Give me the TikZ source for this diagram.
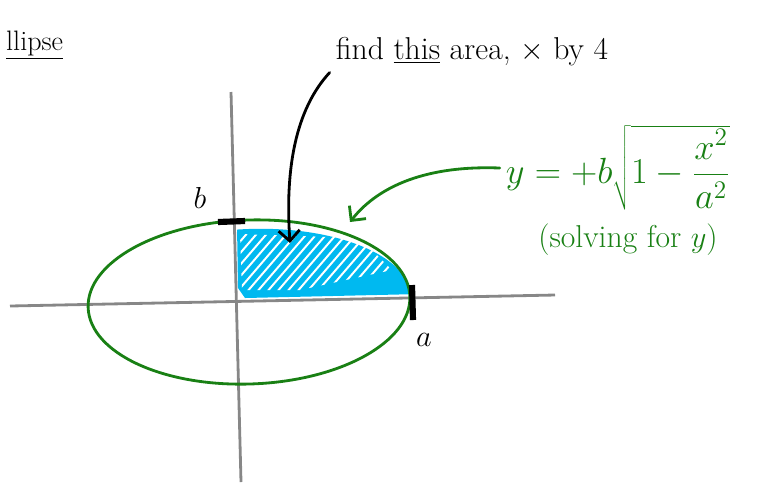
\documentclass[tikz,border=0pt]{standalone}
\usepackage{xcolor}
\usepackage{tikz}
\usetikzlibrary{arrows.meta}
\definecolor{pengreen}{RGB}{25,128,20}
\definecolor{fillblue}{RGB}{0,185,240}
\definecolor{axisgrey}{RGB}{135,135,135}

\begin{document}
\begin{tikzpicture}[x=0.02cm, y=-0.02cm,
      axis/.style={axisgrey, line width=1.6pt},
      pen/.style={line width=1.6pt, line cap=round},
      tick/.style={line width=3.5pt},
      pointer/.style={pen, -{Straight Barb[length=6pt, width=12pt]}}
      ]
  \useasboundingbox (0,0) rectangle (763,485);
  % axes
  \draw[axis] (10,306) -- (555,295);
  \draw[axis] (231,92) -- (241,482);
  % the quarter to find
  \begin{scope}
    \clip[rotate around={2:(249,302)}] (251,302) ellipse [x radius=3.2cm, y radius=1.46cm];
    \fill[fillblue] (237,226) -- (420,226) -- (420,294) -- (245,298) -- (238,288) -- cycle;
  \end{scope}
  \begin{scope}
    \clip (240,234) -- (360,238) -- (392,270) -- (300,290) -- (242,290) -- cycle;
    \foreach \i in {190,200,...,420}
      \draw[white, line width=1.1pt] (\i,300) -- ++(60,-70);
  \end{scope}
  \draw[pen, pengreen, rotate around={2:(249,302)}] (249,302) ellipse [x radius=3.22cm, y radius=1.64cm];
  % end marks
  \draw[tick] (218,222) -- (245,221);
  \draw[tick] (412,285) -- (413,320);
  \node[font=\LARGE] (blabel) at (200,198) {$b$};
  \node[font=\LARGE] (alabel) at (424,340) {$a$};

  \node[anchor=west, font=\fontsize{16}{20}\selectfont] (title) at (0,45) {\underline{llipse}};
  \node[font=\fontsize{18}{22}\selectfont] (findtext) at (472,52) {find \underline{this} area, $\times$ by 4};
  \node[pengreen, font=\fontsize{22}{26}\selectfont] (eqn) at (618,168) {$y = +b\sqrt{1-\displaystyle\frac{x^2}{a^2}}$};
  \node[pengreen, font=\fontsize{18}{22}\selectfont] (solving) at (628,240) {(solving for $y$)};

  \coordinate (areaspot) at (290,243);
  \coordinate (rim) at (350,222);
  \draw[pointer] (findtext.south west) .. controls (295,110) and (285,170) .. (areaspot);
  \draw[pointer, pengreen] (eqn.west) .. controls (420,165) and (375,190) .. (rim);
\end{tikzpicture}
\end{document}
